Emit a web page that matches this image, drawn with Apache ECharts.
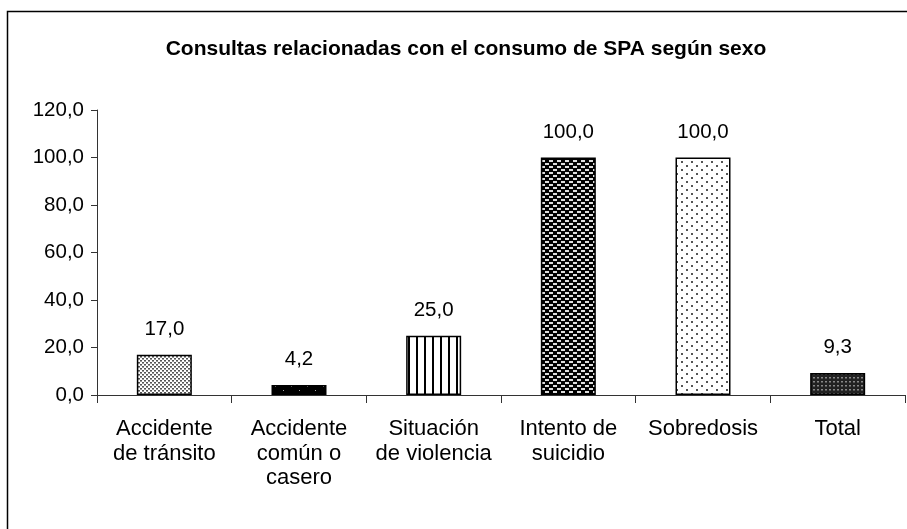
<!DOCTYPE html>
<html>
<head>
<meta charset="utf-8">
<script src="https://cdn.jsdelivr.net/npm/echarts@6/dist/echarts.min.js"></script>
<style>
html,body{margin:0;padding:0;background:#fff;}
#chart{width:907px;height:529px;}
</style>
</head>
<body>
<div id="chart"></div>
<script>
var categories = ['Accidente\nde tránsito', 'Accidente\ncomún o\ncasero', 'Situación\nde violencia', 'Intento de\nsuicidio', 'Sobredosis', 'Total'];
var values = [17.0, 4.2, 25.0, 100.0, 100.0, 9.3];
var yTicks = [0, 20, 40, 60, 80, 100, 120];
var titleText = 'Consultas relacionadas con el consumo de SPA según sexo';

function makePattern(w, h, bg, draw) {
  var c = document.createElement('canvas');
  c.width = w; c.height = h;
  var ctx = c.getContext('2d');
  ctx.fillStyle = bg; ctx.fillRect(0, 0, w, h);
  draw(ctx);
  return c;
}
var patterns = [
  makePattern(4, 4, '#ffffff', function (ctx) {
    ctx.fillStyle = '#555'; ctx.fillRect(0, 0, 2, 1); ctx.fillRect(2, 2, 2, 1);
    ctx.fillStyle = '#999'; ctx.fillRect(0, 1, 2, 1); ctx.fillRect(2, 3, 2, 1);
  }),
  makePattern(16, 8, '#000000', function (ctx) {
    ctx.fillStyle = '#aaa'; ctx.fillRect(3, 2, 1, 1); ctx.fillRect(11, 6, 1, 1);
  }),
  makePattern(8, 4, '#ffffff', function (ctx) {
    ctx.fillStyle = '#000'; ctx.fillRect(0, 0, 2, 4);
  }),
  makePattern(8, 6, '#000000', function (ctx) {
    ctx.fillStyle = '#ddd'; ctx.fillRect(1, 1, 4, 2); ctx.fillRect(5, 4, 4, 2); ctx.fillRect(0, 4, 1, 2);
  }),
  makePattern(10, 8, '#ffffff', function (ctx) {
    ctx.fillStyle = '#555'; ctx.fillRect(1, 1, 2, 2); ctx.fillRect(6, 5, 2, 2);
  }),
  makePattern(4, 4, '#222222', function (ctx) {
    ctx.fillStyle = '#888'; ctx.fillRect(1, 1, 2, 1);
    ctx.fillStyle = '#555'; ctx.fillRect(1, 2, 2, 1);
  })
];

function fmt(v) { return Number(v).toFixed(1).replace('.', ','); }

var chart = echarts.init(document.getElementById('chart'), null, {renderer: 'canvas'});
chart.setOption({
  animation: false,
  backgroundColor: '#fff',
  textStyle: {fontFamily: 'Liberation Sans, Arial, sans-serif'},
  title: {
    text: titleText,
    left: 461, top: 34, textAlign: 'center',
    textStyle: {fontSize: 21, fontWeight: 'bold', color: '#000', fontFamily: 'Liberation Sans, Arial, sans-serif'}
  },
  graphic: [{
    type: 'rect', silent: true,
    shape: {x: 7.5, y: 11.5, width: 920, height: 540},
    style: {fill: 'none', stroke: '#000', lineWidth: 1.5}
  }],
  grid: {left: 97, right: 2, top: 110, bottom: 134, containLabel: false},
  xAxis: {
    type: 'category',
    data: categories,
    axisLine: {lineStyle: {color: '#333', width: 1}},
    axisTick: {show: true, alignWithLabel: false, length: 8, lineStyle: {color: '#333'}},
    axisLabel: {fontSize: 22, color: '#000', lineHeight: 24.5, margin: 22, interval: 0}
  },
  yAxis: {
    type: 'value',
    min: yTicks[0], max: yTicks[yTicks.length - 1], interval: 20,
    axisLine: {show: true, lineStyle: {color: '#333', width: 1}},
    axisTick: {show: true, length: 6, lineStyle: {color: '#333'}},
    splitLine: {show: false},
    axisLabel: {fontSize: 20.5, color: '#000', margin: 13, formatter: fmt}
  },
  series: [{
    type: 'bar',
    barWidth: 55,
    data: values.map(function (v, i) {
      return {value: v, itemStyle: {color: {image: patterns[i], repeat: 'repeat'}}};
    }),
    itemStyle: {borderColor: '#000', borderWidth: 1.5},
    label: {show: true, position: 'top', distance: 15, fontSize: 20.5, color: '#000', formatter: function (p) { return fmt(p.value); }}
  }]
});
</script>
</body>
</html>
